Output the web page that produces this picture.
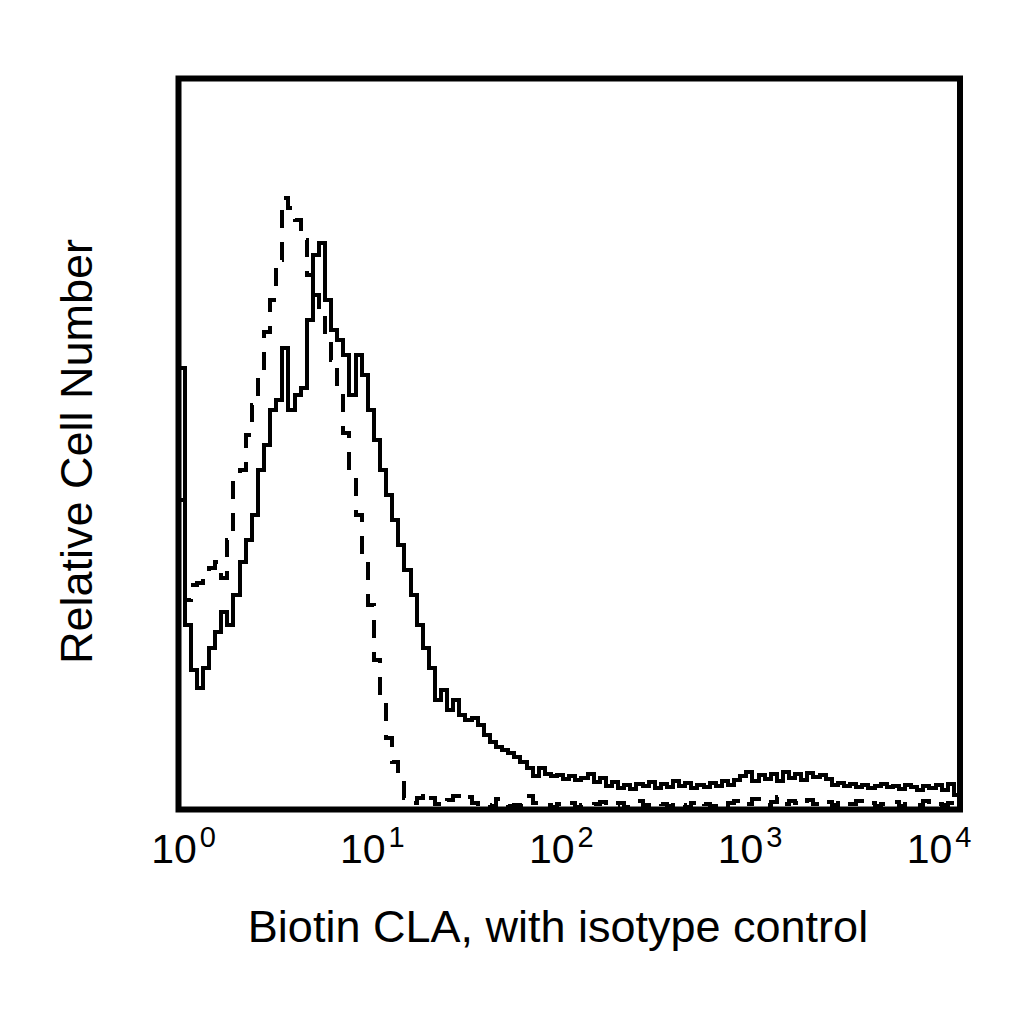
<!DOCTYPE html>
<html>
<head>
<meta charset="utf-8">
<script src="https://cdn.jsdelivr.net/npm/d3@7"></script>
<style>
  html, body { margin: 0; padding: 0; background: #fff; }
  #chart { width: 1024px; height: 1024px; }
  text { font-family: "Liberation Sans", Arial, Helvetica, sans-serif; fill: #000; }
</style>
</head>
<body>
<div id="chart"></div>
<script>
// ==============================
// DATA (histogram channels, 32 per decade, 10^0 .. 10^4)
// ==============================

const decades = [0, 1, 2, 3, 4];
const channelsPerDecade = 32;

// Biotin CLA stained cells (solid line)
const sampleCounts = [
  441, 184, 139, 121, 141, 161, 177, 197, 184, 214, 247, 269, 294, 339, 364, 399,
  409, 461, 399, 414, 421, 489, 554, 566, 509, 479, 469, 454, 414, 454, 434, 399,
  369, 339, 314, 289, 264, 239, 214, 184, 161, 141, 109, 119, 99, 109, 94, 89,
  91, 84, 74, 67, 62, 59, 56, 52, 47, 41, 33, 41, 35, 33, 34, 30,
  33, 29, 31, 35, 27, 31, 23, 27, 21, 24, 20, 25, 23, 27, 21, 25,
  22, 28, 23, 26, 21, 24, 22, 26, 23, 28, 24, 29, 33, 37, 28, 34,
  30, 35, 28, 37, 31, 35, 29, 36, 32, 34, 30, 24, 26, 23, 25, 22,
  24, 21, 23, 25, 22, 23, 20, 24, 22, 19, 23, 21, 24, 19, 25, 14,
];

// isotype control (dashed line)
const isotypeCounts = [
  309, 209, 224, 226, 231, 241, 247, 231, 269, 331, 339, 374, 404, 434, 477, 509,
  549, 611, 601, 589, 569, 534, 514, 494, 474, 449, 417, 376, 341, 294, 249, 204,
  149, 104, 71, 47, 29, 11, 6, 11, 17, 11, 5, 3, 9, 13, 9, 12,
  6, 3, 4, 3, 10, 7, 3, 4, 3, 13, 6, 3, 4, 2, 5, 3,
  6, 2, 4, 3, 5, 7, 3, 4, 6, 2, 5, 8, 4, 3, 6, 5,
  3, 7, 4, 2, 6, 9, 5, 3, 7, 4, 6, 8, 3, 5, 10, 6,
  4, 7, 12, 5, 8, 6, 4, 9, 5, 3, 7, 4, 6, 3, 5, 8,
  4, 6, 3, 5, 4, 7, 3, 5, 6, 4, 8, 3, 5, 4, 6, 12,
];

const xTitle = 'Biotin CLA, with isotype control';
const yTitle = 'Relative Cell Number';

// ==============================
// RENDER
// ==============================

function renderHistogram(selector) {
  const frame = { left: 178.5, right: 960, top: 78.5, bottom: 809.5 };

  const svg = d3
    .select(selector)
    .append('svg')
    .attr('width', 1024)
    .attr('height', 1024);

  // scales
  const x = d3
    .scaleLog()
    .domain([1, 1e4])
    .range([frame.left, frame.right]);

  const y = d3
    .scaleLinear()
    .domain([0, 730])
    .range([frame.bottom, frame.top]);

  // tick labels sit slightly off the plotting scale in the original
  const xLabel = d3
    .scaleLog()
    .domain([1, 1e4])
    .range([183.5, 939]);

  // step-histogram path from channel counts
  const stepLine = d3
    .line()
    .x((d) => x(d[0]))
    .y((d) => y(d[1]))
    .curve(d3.curveStepAfter);

  const toSteps = (counts) => {
    const pts = counts.map((c, i) => [10 ** (i / channelsPerDecade), c]);
    pts.push([10 ** (counts.length / channelsPerDecade), counts[counts.length - 1]]);
    return pts;
  };

  // isotype (dashed)
  svg
    .append('path')
    .attr('d', stepLine(toSteps(isotypeCounts)))
    .attr('fill', 'none')
    .attr('stroke', '#000')
    .attr('stroke-width', 4)
    .attr('stroke-dasharray', '18,14')
    .attr('shape-rendering', 'crispEdges');

  // sample (solid)
  svg
    .append('path')
    .attr('d', stepLine(toSteps(sampleCounts)))
    .attr('fill', 'none')
    .attr('stroke', '#000')
    .attr('stroke-width', 4)
    .attr('shape-rendering', 'crispEdges');

  // frame
  svg
    .append('rect')
    .attr('x', frame.left)
    .attr('y', frame.top)
    .attr('width', frame.right - frame.left)
    .attr('height', frame.bottom - frame.top)
    .attr('fill', 'none')
    .attr('stroke', '#000')
    .attr('stroke-width', 6);

  // x tick labels: 10^n
  const ticks = svg
    .selectAll('text.tick')
    .data(decades)
    .join('text')
    .classed('tick', true)
    .attr('x', (d) => xLabel(10 ** d))
    .attr('y', 863)
    .attr('text-anchor', 'middle')
    .style('font-size', '41px');
  ticks.append('tspan').text('10');
  ticks
    .append('tspan')
    .attr('dx', 3)
    .attr('dy', -16)
    .style('font-size', '29px')
    .text((d) => d);

  // axis titles
  svg
    .append('text')
    .attr('x', 558)
    .attr('y', 942)
    .attr('text-anchor', 'middle')
    .style('font-size', '45px')
    .text(xTitle);

  svg
    .append('text')
    .attr('transform', 'translate(92,451.5) rotate(-90)')
    .attr('text-anchor', 'middle')
    .style('font-size', '45px')
    .text(yTitle);
}

renderHistogram('#chart');
</script>
</body>
</html>
